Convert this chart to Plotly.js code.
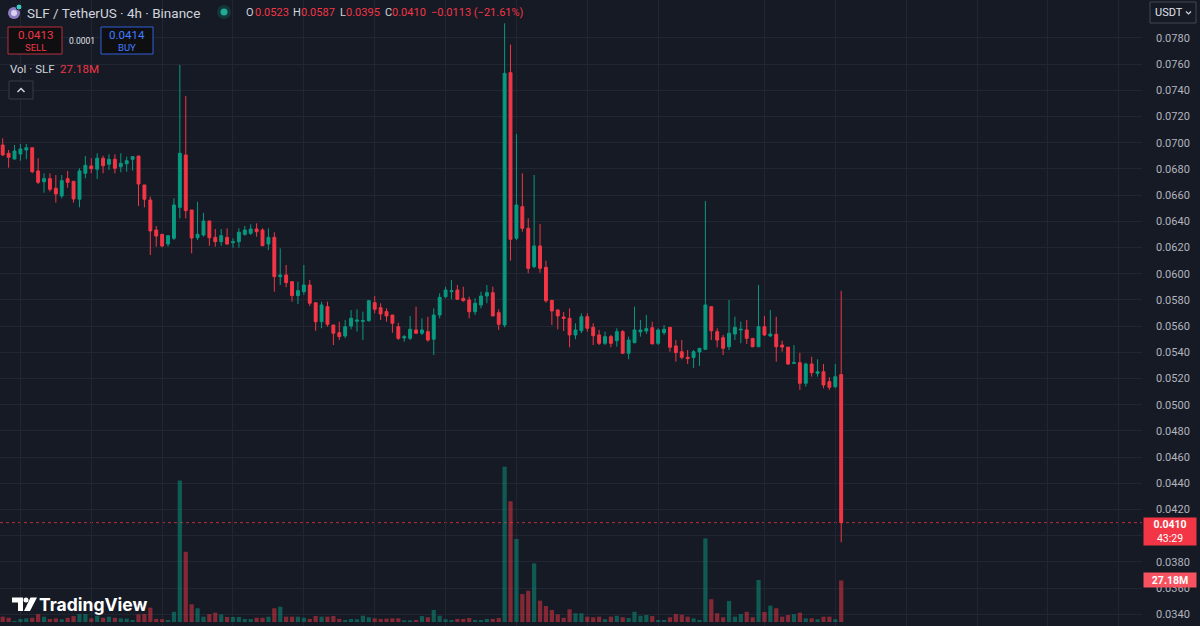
<!DOCTYPE html>
<html>
<head>
<meta charset="utf-8">
<script src="https://cdn.plot.ly/plotly-3.0.1.min.js"></script>
<style>
  html, body { margin: 0; padding: 0; background: #161a25; }
  #chart { width: 1200px; height: 626px; }
</style>
</head>
<body>
<div id="chart"></div>
<script>
// ---- Data: SLF / TetherUS, 4h candles (Binance) ----
const openP = [
  0.06983, 0.06920, 0.06876, 0.06914, 0.06945, 0.06962, 0.06785, 0.06703, 0.06726, 0.06653,
  0.06594, 0.06726, 0.06706, 0.06569, 0.06767, 0.06823, 0.06798, 0.06882, 0.06836, 0.06874,
  0.06817, 0.06840, 0.06874, 0.06899, 0.06678, 0.06563, 0.06334, 0.06301, 0.06227, 0.06271,
  0.06507, 0.06907, 0.06487, 0.06275, 0.06296, 0.06403, 0.06278, 0.06245, 0.06278, 0.06237,
  0.06245, 0.06301, 0.06309, 0.06342, 0.06334, 0.06227, 0.06278, 0.05978, 0.05991, 0.05940,
  0.05833, 0.05863, 0.05914, 0.05779, 0.05634, 0.05749, 0.05609, 0.05550, 0.05525, 0.05601,
  0.05637, 0.05637, 0.05642, 0.05779, 0.05741, 0.05711, 0.05685, 0.05596, 0.05510, 0.05507,
  0.05571, 0.05546, 0.05558, 0.05500, 0.05685, 0.05825, 0.05863, 0.05876, 0.05813, 0.05800,
  0.05710, 0.05762, 0.05830, 0.05856, 0.05703, 0.05609, 0.07535, 0.06271, 0.06512, 0.06347,
  0.06054, 0.06212, 0.06049, 0.05797, 0.05724, 0.05670, 0.05660, 0.05533, 0.05565, 0.05672,
  0.05591, 0.05533, 0.05469, 0.05520, 0.05489, 0.05558, 0.05393, 0.05474, 0.05556, 0.05563,
  0.05588, 0.05469, 0.05550, 0.05591, 0.05449, 0.05405, 0.05362, 0.05360, 0.05403, 0.05423,
  0.05749, 0.05558, 0.05512, 0.05443, 0.05540, 0.05571, 0.05571, 0.05507, 0.05443, 0.05596,
  0.05525, 0.05538, 0.05456, 0.05440, 0.05316, 0.05321, 0.05164, 0.05311, 0.05240, 0.05252,
  0.05176, 0.05138, 0.0523
];
const highP = [
  0.07034, 0.06945, 0.06983, 0.06991, 0.06991, 0.06962, 0.06882, 0.06767, 0.06767, 0.06754,
  0.06754, 0.06785, 0.06706, 0.06805, 0.06899, 0.06882, 0.06920, 0.06901, 0.06912, 0.06912,
  0.06920, 0.06894, 0.06899, 0.06899, 0.06678, 0.06588, 0.06365, 0.06301, 0.06291, 0.06576,
  0.07594, 0.07357, 0.06487, 0.06550, 0.06466, 0.06403, 0.06342, 0.06342, 0.06347, 0.06271,
  0.06347, 0.06365, 0.06378, 0.06385, 0.06347, 0.06347, 0.06317, 0.06194, 0.06067, 0.05940,
  0.05940, 0.06067, 0.05952, 0.05779, 0.05787, 0.05787, 0.05609, 0.05634, 0.05647, 0.05723,
  0.05729, 0.05711, 0.05800, 0.05830, 0.05775, 0.05736, 0.05685, 0.05626, 0.05533, 0.05678,
  0.05749, 0.05660, 0.05672, 0.05736, 0.05851, 0.05901, 0.05952, 0.05914, 0.05901, 0.05825,
  0.05813, 0.05863, 0.05914, 0.05901, 0.05729, 0.07912, 0.07750, 0.07067, 0.06767, 0.06423,
  0.06754, 0.06380, 0.06100, 0.05800, 0.05724, 0.05708, 0.05736, 0.05622, 0.05698, 0.05698,
  0.05622, 0.05571, 0.05558, 0.05533, 0.05584, 0.05571, 0.05520, 0.05749, 0.05647, 0.05685,
  0.05634, 0.05584, 0.05609, 0.05591, 0.05495, 0.05495, 0.05418, 0.05418, 0.05431, 0.06556,
  0.05749, 0.05584, 0.05533, 0.05800, 0.05672, 0.05634, 0.05647, 0.05507, 0.05914, 0.05678,
  0.05724, 0.05672, 0.05490, 0.05440, 0.05456, 0.05397, 0.05321, 0.05367, 0.05347, 0.05311,
  0.05210, 0.05311, 0.0587
];
const lowP = [
  0.06899, 0.06810, 0.06874, 0.06863, 0.06874, 0.06767, 0.06685, 0.06619, 0.06627, 0.06543,
  0.06576, 0.06657, 0.06543, 0.06507, 0.06729, 0.06767, 0.06724, 0.06767, 0.06792, 0.06767,
  0.06775, 0.06779, 0.06787, 0.06517, 0.06507, 0.06143, 0.06207, 0.06202, 0.06207, 0.06258,
  0.06423, 0.06423, 0.06156, 0.06258, 0.06283, 0.06214, 0.06207, 0.06214, 0.06220, 0.06199,
  0.06199, 0.06291, 0.06296, 0.06283, 0.06214, 0.06181, 0.05863, 0.05914, 0.05897, 0.05787,
  0.05769, 0.05838, 0.05754, 0.05565, 0.05584, 0.05596, 0.05456, 0.05494, 0.05507, 0.05576,
  0.05558, 0.05494, 0.05634, 0.05698, 0.05647, 0.05634, 0.05550, 0.05494, 0.05481, 0.05494,
  0.05540, 0.05533, 0.05481, 0.05380, 0.05660, 0.05813, 0.05805, 0.05800, 0.05787, 0.05660,
  0.05685, 0.05736, 0.05775, 0.05678, 0.05571, 0.05591, 0.06100, 0.06258, 0.06321, 0.06004,
  0.06042, 0.06008, 0.05779, 0.05609, 0.05576, 0.05563, 0.05439, 0.05500, 0.05546, 0.05558,
  0.05456, 0.05456, 0.05456, 0.05439, 0.05443, 0.05388, 0.05347, 0.05469, 0.05520, 0.05540,
  0.05464, 0.05456, 0.05533, 0.05405, 0.05329, 0.05347, 0.05311, 0.05281, 0.05296, 0.05418,
  0.05495, 0.05439, 0.05380, 0.05418, 0.05495, 0.05470, 0.05464, 0.05439, 0.05440, 0.05525,
  0.05520, 0.05329, 0.05405, 0.05304, 0.05315, 0.05113, 0.05138, 0.05214, 0.05214, 0.05126,
  0.05113, 0.05126, 0.0395
];
const closeP = [
  0.06907, 0.06889, 0.06937, 0.06953, 0.06962, 0.06779, 0.06698, 0.06726, 0.06645, 0.06609,
  0.06711, 0.06698, 0.06571, 0.06785, 0.06828, 0.06802, 0.06882, 0.06825, 0.06874, 0.06805,
  0.06843, 0.06863, 0.06894, 0.06685, 0.06569, 0.06327, 0.06288, 0.06212, 0.06291, 0.06525,
  0.06920, 0.06482, 0.06273, 0.06301, 0.06403, 0.06275, 0.06245, 0.06291, 0.06227, 0.06245,
  0.06317, 0.06334, 0.06342, 0.06321, 0.06214, 0.06278, 0.05978, 0.05991, 0.05932, 0.05833,
  0.05871, 0.05914, 0.05775, 0.05634, 0.05762, 0.05614, 0.05546, 0.05520, 0.05596, 0.05660,
  0.05647, 0.05642, 0.05794, 0.05729, 0.05693, 0.05678, 0.05622, 0.05507, 0.05520, 0.05576,
  0.05546, 0.05571, 0.05494, 0.05685, 0.05820, 0.05876, 0.05871, 0.05805, 0.05794, 0.05710,
  0.05775, 0.05830, 0.05856, 0.05678, 0.05614, 0.07530, 0.06263, 0.06525, 0.06347, 0.06042,
  0.06212, 0.06042, 0.05794, 0.05716, 0.05678, 0.05659, 0.05533, 0.05571, 0.05672, 0.05584,
  0.05527, 0.05469, 0.05520, 0.05469, 0.05558, 0.05393, 0.05494, 0.05571, 0.05571, 0.05581,
  0.05464, 0.05571, 0.05576, 0.05439, 0.05398, 0.05362, 0.05352, 0.05405, 0.05431, 0.05762,
  0.05565, 0.05494, 0.05431, 0.05546, 0.05591, 0.05576, 0.05507, 0.05443, 0.05596, 0.05533,
  0.05540, 0.05443, 0.05440, 0.05311, 0.05321, 0.05164, 0.05311, 0.05245, 0.05252, 0.05151,
  0.05133, 0.05214, 0.0410
];
// Volume in millions of SLF
const volumeM = [
  3.5, 2.8, 0.7, 2.0, 2.4, 2.8, 5.2, 3.5, 2.0, 2.4,
  1.8, 2.8, 3.9, 5.2, 5.2, 2.4, 4.1, 2.8, 3.5, 2.8,
  2.4, 2.2, 1.3, 5.0, 5.2, 9.4, 2.0, 1.8, 1.3, 6.7,
  92.6, 46.0, 11.6, 9.0, 3.5, 5.2, 6.1, 5.0, 3.3, 3.3,
  3.3, 2.0, 2.0, 2.8, 2.8, 3.5, 9.0, 10.0, 3.5, 3.5,
  3.5, 2.8, 2.0, 3.9, 3.5, 3.5, 3.9, 2.0, 1.3, 2.0,
  1.8, 4.1, 3.1, 2.4, 2.0, 2.2, 2.4, 2.4, 1.1, 1.1,
  1.3, 3.9, 3.1, 7.9, 4.1, 1.8, 1.3, 2.0, 2.0, 2.6,
  1.3, 1.3, 2.0, 2.0, 2.6, 101.7, 79.1, 54.4, 18.3, 20.5,
  38.4, 14.0, 10.5, 7.9, 5.0, 2.8, 8.3, 5.7, 5.7, 3.5,
  3.1, 3.5, 1.8, 3.5, 4.1, 3.1, 2.6, 6.7, 4.1, 4.6,
  3.9, 1.3, 1.3, 3.1, 5.2, 4.8, 3.5, 2.4, 1.3, 54.8,
  14.9, 5.7, 3.1, 13.8, 3.5, 5.2, 6.7, 3.1, 27.5, 6.6,
  10.7, 9.0, 3.5, 4.6, 5.2, 6.1, 2.4, 2.4, 1.8, 3.5,
  3.5, 1.8, 27.18
];
const priceTicks = ['0.0340','0.0360','0.0380','0.0400','0.0420','0.0440','0.0460','0.0480','0.0500','0.0520',
  '0.0540','0.0560','0.0580','0.0600','0.0620','0.0640','0.0660','0.0680','0.0700','0.0720','0.0740','0.0760','0.0780'];

// ---- Styling ----
const UP = '#089981', DOWN = '#f23645';
const BG = '#161a25', GRID = '#222633';
const W = 1200, H = 626, PLOT_W = 1142;
const px = x => x / PLOT_W;
const py = y => 1 - y / H;

const idx = openP.map((_, i) => i);
const volColors = idx.map(i => closeP[i] >= openP[i] ? 'rgba(8,153,129,0.5)' : 'rgba(242,54,69,0.5)');

const volumeTrace = {
  type: 'bar', x: idx, y: volumeM, yaxis: 'y2',
  marker: { color: volColors, line: { width: 0 } },
  width: 0.72, hoverinfo: 'skip', showlegend: false
};
const candleTrace = {
  type: 'candlestick', x: idx, open: openP, high: highP, low: lowP, close: closeP,
  increasing: { line: { color: UP, width: 1 }, fillcolor: UP },
  decreasing: { line: { color: DOWN, width: 1 }, fillcolor: DOWN },
  whiskerwidth: 0, hoverinfo: 'skip', showlegend: false
};

const last = closeP.length - 1;
const fontMain = 'Roboto, "Noto Sans", sans-serif';

function ann(x, y, text, size, color, extra) {
  return Object.assign({
    xref: 'paper', yref: 'paper', x: px(x), y: py(y), text: text, showarrow: false,
    xanchor: 'left', yanchor: 'middle', align: 'left', borderpad: 0,
    font: { family: fontMain, size: size, color: color }
  }, extra || {});
}
const grey = '#d1d4dc';
const RED_TXT = '#f23645';
const fmt = v => v.toFixed(4);
const chg = closeP[last] - openP[last];
const chgPct = chg / openP[last] * 100;

const annotations = [
  ann(26, 12.5, 'SLF / TetherUS · 4h · Binance', 13.5, grey),
  // OHLC legend, each part placed separately
  ann(245, 12.5, 'O', 11, grey), ann(253.5, 12.5, fmt(openP[last]), 11, RED_TXT),
  ann(292, 12.5, 'H', 11, grey), ann(300, 12.5, fmt(highP[last]), 11, RED_TXT),
  ann(338.5, 12.5, 'L', 11, grey), ann(345, 12.5, fmt(lowP[last]), 11, RED_TXT),
  ann(384, 12.5, 'C', 11, grey), ann(391, 12.5, fmt(closeP[last]), 11, RED_TXT),
  ann(430, 12.5, '−' + fmt(Math.abs(chg)) + ' (−' + Math.abs(chgPct).toFixed(2) + '%)', 11, RED_TXT),
  ann(35, 35, '0.0413', 11.5, '#f23645', { xanchor: 'center', align: 'center' }),
  ann(35, 47, 'SELL', 9.5, '#f23645', { xanchor: 'center', align: 'center' }),
  ann(81.5, 41, '0.0001', 8.5, '#e0e3eb', { xanchor: 'center', align: 'center' }),
  ann(127, 35, '0.0414', 11.5, '#3f7dff', { xanchor: 'center', align: 'center' }),
  ann(127, 47, 'BUY', 9.5, '#3f7dff', { xanchor: 'center', align: 'center' }),
  ann(9, 69, 'Vol · SLF', 11.5, grey),
  ann(59, 69, volumeM[last].toFixed(2) + 'M', 11.5, RED_TXT),
  ann(1154, 12.5, 'USDT', 11, '#e0e3eb'),
  ann(38, 604.5, '<b>TradingView</b>', 17.5, '#ffffff', { font: { family: 'Inter, Roboto, sans-serif', size: 17.5, color: '#ffffff' } }),
  // last-price label on the price axis
  { xref: 'paper', yref: 'y', x: px(1143), y: closeP[last], xanchor: 'left', yanchor: 'top',
    yshift: 6, showarrow: false, text: '<b>' + fmt(closeP[last]) + '</b><br>43:29',
    bgcolor: '#f23645', width: 50, height: 25, borderpad: 1, align: 'center',
    font: { family: fontMain, size: 10.5, color: '#ffffff' } },
  // last-volume label on the price axis
  { xref: 'paper', yref: 'y2', x: px(1143), y: volumeM[last], xanchor: 'left', yanchor: 'middle',
    yshift: 0.5, showarrow: false, text: '<b>' + volumeM[last].toFixed(2) + 'M</b>',
    bgcolor: '#f7525f', width: 50, height: 12, borderpad: 1, align: 'center',
    font: { family: fontMain, size: 10.5, color: '#ffffff' } }
];

const shapes = [
  // last price dotted line
  { type: 'line', xref: 'paper', x0: 0, x1: 1, yref: 'y', y0: closeP[last], y1: closeP[last],
    line: { color: 'rgba(242,54,69,0.75)', width: 1, dash: 'dot' }, layer: 'below' },
  // symbol icon
  { type: 'circle', xref: 'paper', yref: 'paper', x0: px(8), x1: px(20), y0: py(19), y1: py(7),
    fillcolor: '#8e7cc3', line: { width: 0 } },
  { type: 'circle', xref: 'paper', yref: 'paper', x0: px(11), x1: px(17), y0: py(16), y1: py(10),
    fillcolor: '#d9d2f0', line: { width: 0 } },
  { type: 'circle', xref: 'paper', yref: 'paper', x0: px(16), x1: px(22), y0: py(10), y1: py(4),
    fillcolor: '#3ec6c0', line: { color: BG, width: 1 } },
  // market status dot
  { type: 'circle', xref: 'paper', yref: 'paper', x0: px(217), x1: px(231), y0: py(19), y1: py(5),
    fillcolor: 'rgba(8,153,129,0.22)', line: { width: 0 } },
  { type: 'circle', xref: 'paper', yref: 'paper', x0: px(220.5), x1: px(227.5), y0: py(15.5), y1: py(8.5),
    fillcolor: '#22ab94', line: { width: 0 } },
  // SELL / BUY boxes
  { type: 'rect', xref: 'paper', yref: 'paper', x0: px(8), x1: px(62), y0: py(54), y1: py(27),
    fillcolor: '#0f0f12', line: { color: '#b5303c', width: 1 } },
  { type: 'rect', xref: 'paper', yref: 'paper', x0: px(101), x1: px(153), y0: py(54), y1: py(27),
    fillcolor: '#0f0f12', line: { color: '#2f5fd6', width: 1 } },
  // collapse button
  { type: 'rect', xref: 'paper', yref: 'paper', x0: px(9), x1: px(33), y0: py(99), y1: py(81),
    fillcolor: BG, line: { color: '#363a45', width: 1 } },
  { type: 'path', xref: 'paper', yref: 'paper',
    path: 'M ' + px(17.5) + ' ' + py(92) + ' L ' + px(21) + ' ' + py(88.5) + ' L ' + px(24.5) + ' ' + py(92),
    line: { color: '#d1d4dc', width: 1.5 } },
  // currency button
  { type: 'rect', xref: 'paper', yref: 'paper', x0: px(1150), x1: px(1196), y0: py(23), y1: py(2),
    fillcolor: BG, line: { color: '#434651', width: 1 } },
  { type: 'path', xref: 'paper', yref: 'paper',
    path: 'M ' + px(1186) + ' ' + py(11.5) + ' L ' + px(1188.5) + ' ' + py(14) + ' L ' + px(1191) + ' ' + py(11.5),
    line: { color: '#d1d4dc', width: 1.2 } },
  // TradingView logo mark
  { type: 'path', xref: 'paper', yref: 'paper', fillcolor: '#ffffff', line: { width: 0 },
    path: 'M ' + px(12) + ' ' + py(597.5) + ' L ' + px(23) + ' ' + py(597.5) + ' L ' + px(23) + ' ' + py(611) +
          ' L ' + px(18) + ' ' + py(611) + ' L ' + px(18) + ' ' + py(602.5) + ' L ' + px(12) + ' ' + py(602.5) + ' Z' },
  { type: 'circle', xref: 'paper', yref: 'paper', x0: px(23.5), x1: px(28.5), y0: py(602.5), y1: py(597.5),
    fillcolor: '#ffffff', line: { width: 0 } },
  { type: 'path', xref: 'paper', yref: 'paper', fillcolor: '#ffffff', line: { width: 0 },
    path: 'M ' + px(30.5) + ' ' + py(597.5) + ' L ' + px(37) + ' ' + py(597.5) + ' L ' + px(30) + ' ' + py(611) +
          ' L ' + px(24) + ' ' + py(611) + ' Z' }
];

// the 0.0400 tick sits fully under the last-price label in the reference
const tickText = priceTicks.map(t => t === '0.0400' ? '' : t);

const layout = {
  width: W, height: H,
  margin: { l: 0, r: W - PLOT_W, t: 0, b: 0, pad: 0 },
  paper_bgcolor: BG, plot_bgcolor: BG,
  showlegend: false, hovermode: false, dragmode: false,
  xaxis: {
    type: 'linear', range: [-0.457, 192.94], showticklabels: false, ticks: '',
    tickmode: 'array', tickvals: [3, 15, 27, 39, 51, 63, 75, 87, 99, 111, 129, 141, 153, 165, 177, 189],
    showgrid: true, gridcolor: GRID, gridwidth: 1, zeroline: false, showline: false,
    rangeslider: { visible: false }, fixedrange: true
  },
  yaxis: {
    side: 'right', range: [0.03311, 0.0809], tickmode: 'array',
    tickvals: priceTicks.map(Number), ticktext: tickText,
    showgrid: true, gridcolor: GRID, gridwidth: 1, zeroline: false, showline: false,
    ticks: '', ticklabelstandoff: 13,
    tickfont: { family: fontMain, size: 11, color: '#b2b5be' }, fixedrange: true
  },
  yaxis2: {
    overlaying: 'y', side: 'left', range: [-2.62, 407.4], visible: false, fixedrange: true
  },
  bargap: 0.28,
  annotations: annotations,
  shapes: shapes
};

Plotly.newPlot('chart', [volumeTrace, candleTrace], layout, { displayModeBar: false, staticPlot: true });
</script>
</body>
</html>
